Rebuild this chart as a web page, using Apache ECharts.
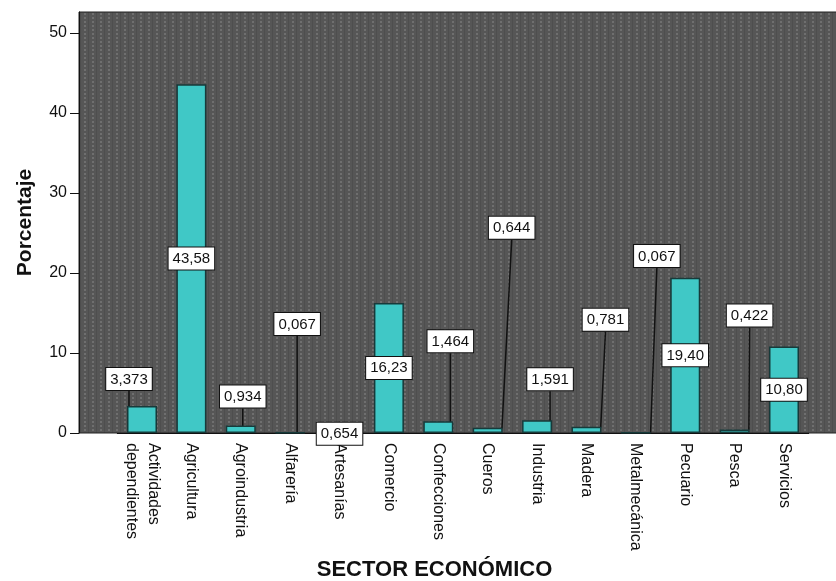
<!DOCTYPE html>
<html>
<head>
<meta charset="utf-8">
<script src="https://cdn.jsdelivr.net/npm/echarts@6/dist/echarts.min.js"></script>
<style>
html,body{margin:0;padding:0;background:#fff;}
#chart{width:836px;height:581px;}
</style>
</head>
<body>
<div id="chart"></div>
<script>
// ---- data ----
const categories = ["Actividades\ndependientes", "Agricultura", "Agroindustria", "Alfarería", "Artesanías", "Comercio", "Confecciones", "Cueros", "Industria", "Madera", "Metalmecánica", "Pecuario", "Pesca", "Servicios"];
const porcentaje = [3.373, 43.58, 0.934, 0.067, 0.654, 16.23, 1.464, 0.644, 1.591, 0.781, 0.067, 19.40, 0.422, 10.80];
const yTicks = [0, 10, 20, 30, 40, 50];

// ---- label placement (layout only, pixels) ----
const labelDx = [-13, 0, 2, 7, 0, 0, 12, 24, 13, 19, 21, 0, 15, 0];
const labelDy = [-11, 0, -13, -92, 22, 0, -64, -184, -25, -91, -160, 0, -98, 0];

function fmt(v) {
  return (v >= 10 ? v.toFixed(2) : v.toFixed(3)).replace('.', ',');
}

// dotted plot background
const tile = document.createElement('canvas');
tile.width = 8; tile.height = 4;
const tc = tile.getContext('2d');
tc.fillStyle = '#565656'; tc.fillRect(0, 0, 8, 4);
tc.fillStyle = '#4e4e4e'; tc.fillRect(0, 0, 1, 4);
tc.fillStyle = '#6f6f6f'; tc.fillRect(4, 1, 2, 2);

const FONT = 'Liberation Sans, Arial, sans-serif';

const xData = categories.map((c, i) => i === 0 ? {value: c, textStyle: {padding: [30, 0, 0, 0]}} : c);

const barData = porcentaje.map((v, i) => {
  const inside = v >= 10;
  return {
    value: v,
    label: {position: inside ? 'inside' : 'top'},
    labelLine: {show: !inside}
  };
});

const chart = echarts.init(document.getElementById('chart'), null, {renderer: 'canvas'});
chart.setOption({
  animation: false,
  backgroundColor: '#fff',
  grid: [
    {left: 79, right: -2, top: 12, bottom: 148, show: true, outerBoundsMode: 'none', containLabel: false,
     backgroundColor: {image: tile, repeat: 'repeat'}, borderColor: '#222', borderWidth: 1},
    {left: 117.3, right: 27.3, top: 12, bottom: 148, outerBoundsMode: 'none', containLabel: false}
  ],
  xAxis: [
    {gridIndex: 0, type: 'value', show: false, min: 0, max: 1},
    {gridIndex: 1, type: 'category', data: xData,
     axisLine: {lineStyle: {color: '#111', width: 1}},
     axisTick: {alignWithLabel: true, length: 6, lineStyle: {color: '#111'}},
     axisLabel: {rotate: -90, interval: 0, fontSize: 16, fontFamily: FONT, color: '#111', margin: 10, lineHeight: 22},
     name: 'SECTOR ECONÓMICO', nameLocation: 'middle', nameGap: 122,
     nameTextStyle: {fontSize: 22, fontWeight: 'bold', fontFamily: FONT, color: '#111', padding: [0, 57, 0, 0]}
    }
  ],
  yAxis: [
    {gridIndex: 0, type: 'value', show: false, min: 0, max: 1},
    {gridIndex: 1, type: 'value', min: 0, max: 52.6, interval: 10, offset: 38.3,
     axisLine: {show: true, lineStyle: {color: '#111', width: 1}},
     axisTick: {show: true, length: 9, lineStyle: {color: '#111'}, customValues: yTicks},
     axisLabel: {fontSize: 16, fontFamily: FONT, color: '#111', margin: 12, customValues: yTicks},
     splitLine: {show: false},
     name: 'Porcentaje', nameLocation: 'middle', nameGap: 43,
     nameTextStyle: {fontSize: 21, fontWeight: 'bold', fontFamily: FONT, color: '#111'}
    }
  ],
  series: [{
    type: 'bar',
    xAxisIndex: 1, yAxisIndex: 1,
    data: barData,
    barWidth: 30,
    itemStyle: {color: '#40c8c6', borderColor: '#173a3a', borderWidth: 1.5},
    label: {
      show: true,
      formatter: p => fmt(p.value),
      fontSize: 15, fontFamily: FONT, color: '#111',
      backgroundColor: '#fff', borderColor: '#111', borderWidth: 1,
      padding: [4, 4, 3, 4]
    },
    labelLine: {show: true, lineStyle: {color: '#111', width: 1.5}},
    labelLayout: p => ({dx: labelDx[p.dataIndex], dy: labelDy[p.dataIndex]})
  }]
});
</script>
</body>
</html>
